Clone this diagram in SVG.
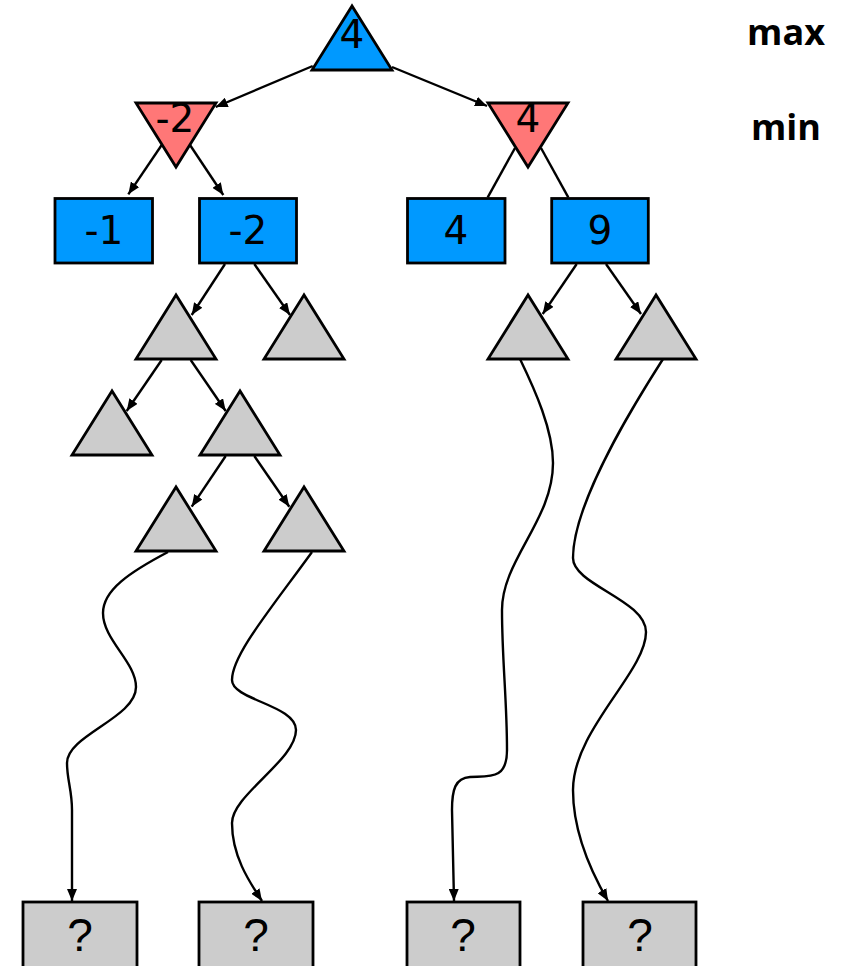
<svg xmlns="http://www.w3.org/2000/svg" width="856" height="966" viewBox="0 0 856 966">
<style>
.max{fill:#0099FF;stroke:#000;stroke-width:2.8;stroke-linejoin:miter}
.min{fill:#FF7777;stroke:#000;stroke-width:2.8}
.gray{fill:#CCCCCC;stroke:#000;stroke-width:2.8}
.num{font-family:"DejaVu Sans",Verdana,sans-serif;font-size:39px;fill:#000;text-anchor:middle}
.q{font-family:"Liberation Sans",Arial,sans-serif;font-size:46px;fill:#000;text-anchor:middle}
.lab{font-family:"Open Sans","Liberation Sans",sans-serif;font-weight:bold;font-size:36px;fill:#000;text-anchor:middle}
.edge{fill:none;stroke:#000;stroke-width:2.4}
.arr{marker-end:url(#ah)}
</style>
<defs>
<marker id="ah" markerUnits="userSpaceOnUse" markerWidth="12" markerHeight="10" refX="12" refY="5" orient="auto">
<path d="M0,0 L12,5 L0,10 z" fill="#000"/>
</marker>
</defs>
<rect width="856" height="966" fill="#fff"/>

<g id="label-max"><text class="lab" x="786" y="45">max</text></g>
<g id="label-min"><text class="lab" x="786" y="140">min</text></g>

<g id="root"><polygon class="max" points="352,6 312,70 392,70"/><text class="num" x="352" y="48">4</text></g>
<g id="min-left"><polygon class="min" points="136,103 216,103 176,167"/><text class="num" x="175" y="132">-2</text></g>
<g id="min-right"><polygon class="min" points="488,103 568,103 528,167"/><text class="num" x="528" y="132">4</text></g>

<g id="leaf-m1"><rect class="max" x="55" y="198.5" width="97.5" height="64.5"/><text class="num" x="104" y="243.5">-1</text></g>
<g id="leaf-m2"><rect class="max" x="199.5" y="198.5" width="97" height="64.5"/><text class="num" x="248" y="243.5">-2</text></g>
<g id="leaf-4"><rect class="max" x="407.5" y="198.5" width="97.5" height="64.5"/><text class="num" x="456" y="243.5">4</text></g>
<g id="leaf-9"><rect class="max" x="551.7" y="198.5" width="96.6" height="64.5"/><text class="num" x="600" y="243.5">9</text></g>

<g id="t1"><polygon class="gray" points="176,295 136,359 216,359"/></g>
<g id="t2"><polygon class="gray" points="304,295 264,359 344,359"/></g>
<g id="t3"><polygon class="gray" points="112,391 72,455 152,455"/></g>
<g id="t4"><polygon class="gray" points="240,391 200,455 280,455"/></g>
<g id="t5"><polygon class="gray" points="176,487 136,551 216,551"/></g>
<g id="t6"><polygon class="gray" points="304,487 264,551 344,551"/></g>
<g id="t7"><polygon class="gray" points="528,295 488,359 568,359"/></g>
<g id="t8"><polygon class="gray" points="656,295 616,359 696,359"/></g>

<g id="q1"><rect class="gray" x="23" y="902" width="114" height="70"/><text class="q" x="80" y="951">?</text></g>
<g id="q2"><rect class="gray" x="199" y="902" width="114" height="70"/><text class="q" x="256" y="951">?</text></g>
<g id="q3"><rect class="gray" x="407" y="902" width="113" height="70"/><text class="q" x="463" y="951">?</text></g>
<g id="q4"><rect class="gray" x="583" y="902" width="113" height="70"/><text class="q" x="640" y="951">?</text></g>

<g id="connectors">
<line class="edge arr" x1="312.7" y1="66" x2="215.7" y2="107"/>
<line class="edge arr" x1="392" y1="67" x2="487" y2="106"/>
<line class="edge arr" x1="161.7" y1="145" x2="128.3" y2="194.3"/>
<line class="edge arr" x1="190" y1="145" x2="223.3" y2="195"/>
<line class="edge" x1="515" y1="148" x2="487.7" y2="197.3"/>
<line class="edge" x1="541" y1="148" x2="568.3" y2="197.3"/>
<line class="edge arr" x1="225" y1="264" x2="191.7" y2="315"/>
<line class="edge arr" x1="254.3" y1="264" x2="290" y2="315"/>
<line class="edge arr" x1="161.7" y1="360" x2="126.7" y2="411"/>
<line class="edge arr" x1="190.7" y1="360" x2="225.7" y2="411"/>
<line class="edge arr" x1="225.7" y1="456" x2="191.7" y2="506.7"/>
<line class="edge arr" x1="254.3" y1="456" x2="289.3" y2="506.7"/>
<line class="edge arr" x1="576.7" y1="264" x2="542.7" y2="314"/>
<line class="edge arr" x1="606" y1="264" x2="641" y2="314"/>
<path class="edge arr" d="M168,552 C130,572 103,590 103,613 C103,640 136,662 136,687 C136,718 67,735 67,763 C67,780 72,790 72,810 L72,901"/>
<path class="edge arr" d="M312,552 C270,610 232,655 232,680 C232,700 296,705 296,730 C296,760 232,795 232,823 C232,855 248,880 262,901"/>
<path class="edge arr" d="M520,359 C535,390 553,430 553,463 C553,520 502,560 502,610 C502,660 507,700 507,750 C507,780 490,776 470,777 C455,778 452,790 452,810 L454,901"/>
<path class="edge arr" d="M663,359 C640,395 573,500 573,558 C573,585 646,600 646,632 C646,672 573,730 573,790 C573,830 590,870 608,901"/>
</g>
</svg>
